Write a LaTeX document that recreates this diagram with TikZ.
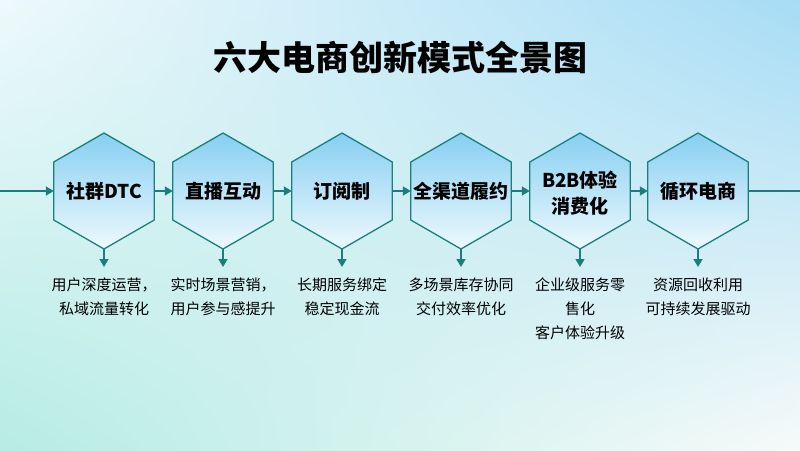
\documentclass[tikz,border=0pt]{standalone}
\usepackage{fontspec}
\setmainfont{Noto Sans CJK SC}
\usetikzlibrary{shapes.geometric,arrows.meta,calc,shadings}
\definecolor{teal1}{HTML}{1A7F7C}
\definecolor{hexTop}{HTML}{86CFF2}
\definecolor{hexBot}{HTML}{EEF9FD}
\definecolor{bgTL}{HTML}{EEF9FB}
\definecolor{bgTR}{HTML}{A6DCF5}
\definecolor{bgBL}{HTML}{B6ECE4}
\definecolor{bgBR}{HTML}{F6FAF9}
\tikzset{
  hexnode/.style={regular polygon, regular polygon sides=6, regular polygon rotate=30,
    minimum size=116pt, inner sep=0pt, outer sep=0pt, draw=teal1, line width=1.3pt,
    top color=hexTop, bottom color=hexBot},
  hextext/.style={font=\fontsize{19}{26}\selectfont\bfseries, align=center, text=black},
  desc/.style={font=\fontsize{15}{24}\selectfont, align=center, text=black, anchor=north},
  flow/.style={draw=teal1, line width=1.6pt, -{Triangle[length=8pt,width=9pt]}},
  plain/.style={draw=teal1, line width=1.6pt},
}
\begin{document}
\begin{tikzpicture}[x=1pt,y=-1pt]
\useasboundingbox (0,0) rectangle (800,450);
\begin{scope}[yscale=-1]
\shade[upper left=bgTL, upper right=bgTR, lower left=bgBL, lower right=bgBR] (0,0) rectangle (800,-450);
\end{scope}
\node[font=\fontsize{34}{40}\selectfont\bfseries] (title) at (400,57) {六大电商创新模式全景图};
\coordinate (start) at (0,191);
\coordinate (end) at (800,191);
\node[hexnode] (h1) at (104,191) {};
\node[hexnode] (h2) at (223,191) {};
\node[hexnode] (h3) at (342,191) {};
\node[hexnode] (h4) at (461,191) {};
\node[hexnode] (h5) at (580,191) {};
\node[hexnode] (h6) at (698,191) {};
\node[hextext] (t1) at (h1) {社群DTC};
\node[hextext] (t2) at (h2) {直播互动};
\node[hextext] (t3) at (h3) {订阅制};
\node[hextext] (t4) at (h4) {全渠道履约};
\node[hextext] (t5) at (580,193) {B2B体验\\消费化};
\node[hextext] (t6) at (h6) {循环电商};
\draw[flow] (start) -- (h1.west);
\draw[flow] (h1.east) -- (h2.west);
\draw[flow] (h2.east) -- (h3.west);
\draw[flow] (h3.east) -- (h4.west);
\draw[flow] (h4.east) -- (h5.west);
\draw[flow] (h5.east) -- (h6.west);
\draw[plain] (h6.east) -- (end);
\node[desc] (d1) at (104,274) {用户深度运营，\\私域流量转化};
\node[desc] (d2) at (223,274) {实时场景营销，\\用户参与感提升};
\node[desc] (d3) at (342,274) {长期服务绑定\\稳定现金流};
\node[desc] (d4) at (461,274) {多场景库存协同\\交付效率优化};
\node[desc] (d5) at (580,274) {企业级服务零\\售化\\客户体验升级};
\node[desc] (d6) at (698,274) {资源回收利用\\可持续发展驱动};
\foreach \i in {1,...,6}{
  \draw[flow] (h\i.south) -- ($(h\i.south)+(0,18)$);
}
\end{tikzpicture}
\end{document}
